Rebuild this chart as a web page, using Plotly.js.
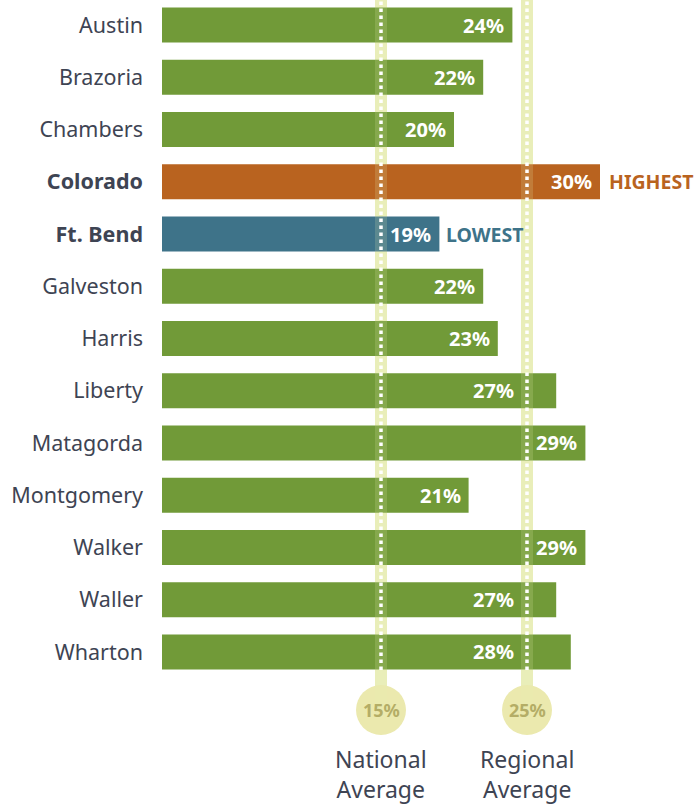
<!DOCTYPE html>
<html><head><meta charset="utf-8">
<script src="https://cdn.plot.ly/plotly-3.0.1.min.js"></script>
<style>html,body{margin:0;padding:0;background:#fff}</style>
</head><body><div id="chart" style="width:695px;height:808px"></div>
<script>
const counties = ['Austin','Brazoria','Chambers','Colorado','Ft. Bend','Galveston','Harris','Liberty','Matagorda','Montgomery','Walker','Waller','Wharton'];
const rates = [24,22,20,30,19,22,23,27,29,21,29,27,28];
const nationalAvg = 15;
const regionalAvg = 25;
const avgNames = ['National<br>Average','Regional<br>Average'];
const highLabel = 'HIGHEST';
const lowLabel = 'LOWEST';

const FONT = 'Noto Sans, Open Sans, sans-serif';
const GREEN = '#719a38', ORANGE = '#b9631f', TEAL = '#3e7389';
const maxV = Math.max(...rates), minV = Math.min(...rates);
const iMax = rates.indexOf(maxV), iMin = rates.indexOf(minV);
const colors = rates.map((v,i)=> i===iMax ? ORANGE : (i===iMin ? TEAL : GREEN));
const ticktext = counties.map((c,i)=> (i===iMax||i===iMin) ? '<b>'+c+'</b>' : c);

const H = 808;
const circY = 1 - 710/H;
const dotEnd = 1 - 670/H;
const labelY = 1 - 774/H;

const shapes = [];
const annotations = [];
[nationalAvg, regionalAvg].forEach((avg, k) => {
  shapes.push({type:'line', layer:'below', xref:'x', yref:'paper', x0:avg, x1:avg, y0:circY, y1:1,
    line:{color:'#eaeebb', width:12}});
  shapes.push({type:'line', layer:'above', xref:'x', yref:'paper', x0:avg, x1:avg, y0:circY, y1:1,
    line:{color:'rgba(235,240,180,0.18)', width:12}});
  shapes.push({type:'line', layer:'above', xref:'x', yref:'paper', x0:avg, x1:avg, y0:dotEnd, y1:1,
    line:{color:'#ffffff', width:3.5, dash:'3.5px,3.5px'}});
  shapes.push({type:'circle', layer:'below', xref:'x', yref:'paper', xsizemode:'pixel', ysizemode:'pixel',
    xanchor:avg, yanchor:circY, x0:-25, x1:25, y0:-25, y1:25, fillcolor:'#ebe9ae', line:{width:0}});
  annotations.push({xref:'x', yref:'paper', x:avg, y:circY, text:'<b>'+avg+'%</b>', showarrow:false,
    font:{family:FONT, size:18, color:'#b4ad66'}, xanchor:'center', yanchor:'middle'});
  annotations.push({xref:'x', yref:'paper', x:avg, y:labelY, text:avgNames[k], showarrow:false,
    font:{family:FONT, size:23, color:'#3e4453'}, xanchor:'center', yanchor:'middle', borderpad:0});
});
annotations.push({xref:'x', yref:'y', x:maxV, y:counties[iMax], text:'<b>'+highLabel+'</b>', showarrow:false,
  xanchor:'left', xshift:7, font:{family:FONT, size:19.5, color:ORANGE}});
annotations.push({xref:'x', yref:'y', x:minV, y:counties[iMin], text:'<b>'+lowLabel+'</b>', showarrow:false,
  xanchor:'left', xshift:5, font:{family:FONT, size:19.5, color:TEAL}});

// value labels: right-aligned at bar end, or moved left of the regional line if they would overlap it
rates.forEach((v,i) => {
  const clash = regionalAvg < v && regionalAvg > v - 3.4;
  annotations.push({xref:'x', yref:'y', x: clash ? regionalAvg : v, y:counties[i],
    text:'<b>'+v+'%</b>', showarrow:false, xanchor:'right', yanchor:'middle',
    xshift: clash ? -11 : -6, font:{family:FONT, size:20, color:'#ffffff'}});
});

const trace = {
  type:'bar', orientation:'h', x:rates, y:counties,
  marker:{color:colors, line:{width:0}},
  textposition:'none', hoverinfo:'skip'
};

const pxPer = 14.6;
const layout = {
  width:695, height:H, margin:{l:162, r:0, t:0, b:0},
  paper_bgcolor:'#ffffff', plot_bgcolor:'rgba(0,0,0,0)',
  showlegend:false, bargap:0.33,
  xaxis:{range:[0, 533/pxPer], visible:false, fixedrange:true},
  yaxis:{type:'category', range:[14.986, -0.4785], tickvals:counties, ticktext:ticktext,
    showgrid:false, zeroline:false, showline:false, ticks:'', ticklabelstandoff:18,
    tickfont:{family:FONT, size:21.5, color:'#3e4453'}, fixedrange:true},
  shapes:shapes, annotations:annotations
};
Plotly.newPlot('chart', [trace], layout, {displayModeBar:false, staticPlot:true});
</script></body></html>
